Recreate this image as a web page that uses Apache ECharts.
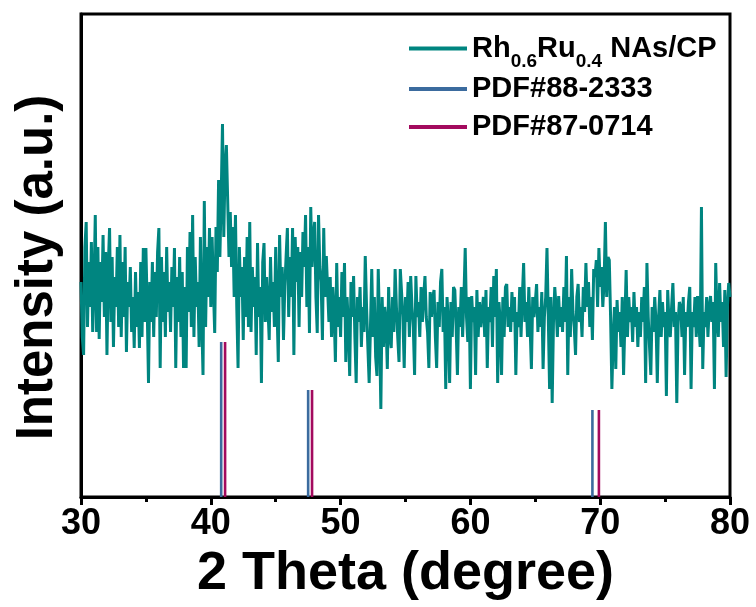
<!DOCTYPE html>
<html>
<head>
<meta charset="utf-8">
<script src="https://cdn.jsdelivr.net/npm/echarts@6/dist/echarts.min.js"></script>
<style>html,body{margin:0;padding:0;background:#fff;}#chart{width:756px;height:607px;}</style>
</head>
<body>
<div id="chart"></div>
<script>
// XRD pattern, 2θ from 30 to 80 in steps of 0.1
var thetaStart = 30;
var thetaStep = 0.1;
var intensity = [
215,160,142,250,275,170,235,190,255,165,
210,282,165,250,158,235,195,262,180,245,
142,230,269,175,240,150,220,190,250,170,
262,160,235,180,250,145,215,190,230,165,
200,149,225,170,205,149,235,160,249,175,
249,190,114,215,175,235,160,225,180,245,
269,129,240,175,225,160,250,185,215,165,
230,190,249,129,220,175,240,160,225,129,
210,129,250,185,265,170,282,160,240,190,
215,150,260,180,122,296,170,250,200,269,
190,260,210,164,270,225,317,240,300,373,
260,330,352,297,240,285,230,270,200,282,
190,129,250,200,230,157,240,180,260,170,
275,165,230,190,220,142,254,180,210,114,
235,254,175,220,190,157,240,185,215,170,
250,190,135,262,200,230,157,210,240,269,
180,240,200,269,142,260,215,250,170,245,
200,265,230,282,190,250,164,290,230,260,
275,200,164,282,230,215,157,269,200,241,
241,175,220,160,210,185,135,234,170,200,
160,225,180,234,135,200,170,121,215,180,
221,160,114,200,175,210,150,190,165,241,
190,150,114,170,228,160,200,140,121,228,
170,88,200,150,190,175,128,210,160,149,
200,165,228,190,160,135,228,228,180,129,
200,175,215,160,221,190,170,122,221,180,
195,160,210,175,200,221,180,165,129,205,
180,200,207,160,129,195,170,215,228,165,
190,108,200,175,114,195,160,210,207,170,
122,190,170,210,160,200,249,180,155,200,
108,201,175,190,122,207,160,195,170,185,
200,160,207,129,190,175,210,150,221,180,
228,114,195,175,122,200,160,210,213,170,
190,165,205,175,200,122,185,170,210,160,
200,234,175,195,160,210,170,128,200,180,
195,213,165,190,170,205,128,180,200,249,
180,108,200,94,175,210,190,160,201,170,
190,165,210,175,241,122,200,160,228,185,
170,142,200,213,175,190,160,210,185,234,
190,215,170,200,157,228,220,237,190,249,
210,230,190,215,275,200,240,237,180,108,
160,190,128,197,165,185,150,200,122,175,
227,160,200,175,190,155,205,170,190,150,
185,160,200,175,210,114,234,180,150,122,
190,165,200,175,114,180,207,160,195,170,
185,101,207,175,160,190,214,170,185,94,
175,195,190,160,200,122,185,170,195,210,
108,185,170,200,160,201,175,150,290,128,
185,170,200,160,190,201,175,195,108,234,
180,160,214,175,195,150,207,120,190,214,
200
];
// Standard reference patterns
var pdf88Theta = [40.8, 47.5, 69.4];
var pdf88Height = [155, 107, 87];
var pdf87Theta = [41.1, 47.8, 69.9];
var pdf87Height = [155, 107, 87];
var xTicks = [30, 40, 50, 60, 70, 80];

var sampleName = 'Rh0.6Ru0.4 NAs/CP';
var pdf88Name = 'PDF#88-2333';
var pdf87Name = 'PDF#87-0714';

var teal = '#008580', blue = '#3b6b9e', magenta = '#a30a5e';
var FONT = '"Liberation Sans", Arial, sans-serif';

var sampleData = intensity.map(function (v, i) {
  return [+(thetaStart + i * thetaStep).toFixed(2), v];
});
function sticks(th, h) { return th.map(function (t, i) { return [t, h[i]]; }); }

function stickRender(color) {
  return function (params, api) {
    var x = api.value(0), y = api.value(1);
    var p0 = api.coord([x, 0]);
    var p1 = api.coord([x, y]);
    return {
      type: 'rect',
      shape: { x: p0[0] - 1.3, y: p1[1], width: 2.6, height: p0[1] - p1[1] },
      style: { fill: color }
    };
  };
}

var chart = echarts.init(document.getElementById('chart'), null, { renderer: 'canvas' });
var legendText = { fontSize: 29, fontWeight: 'bold', color: '#000', fontFamily: FONT, lineHeight: 32 };
chart.setOption({
  animation: false,
  backgroundColor: '#fff',
  grid: { left: 81, right: 26, top: 14, bottom: 110, show: true, borderColor: '#000', borderWidth: 3, backgroundColor: 'transparent' },
  legend: [
    {
      data: [{ name: sampleName, icon: 'rect' }],
      left: 409, top: 26, padding: 0, itemWidth: 58, itemHeight: 4, selectedMode: false,
      formatter: function () { return '{a|Rh}{s|0.6}{a|Ru}{s|0.4}{a| NAs/CP}'; },
      textStyle: {
        color: '#000', fontFamily: FONT,
        rich: {
          a: { fontSize: 29, fontWeight: 'bold', fontFamily: FONT, color: '#000', lineHeight: 32 },
          s: { fontSize: 19, fontWeight: 'bold', fontFamily: FONT, color: '#000', lineHeight: 19, padding: [26, 0, 0, 0] }
        }
      }
    },
    {
      data: [{ name: pdf88Name, icon: 'rect' }],
      left: 409, top: 73, padding: 0, itemWidth: 58, itemHeight: 4, selectedMode: false,
      textStyle: legendText
    },
    {
      data: [{ name: pdf87Name, icon: 'rect' }],
      left: 409, top: 111, padding: 0, itemWidth: 58, itemHeight: 4, selectedMode: false,
      textStyle: legendText
    }
  ],
  xAxis: {
    type: 'value', min: 30, max: 80, interval: 10,
    name: '2 Theta (degree)', nameLocation: 'middle', nameGap: 42,
    nameTextStyle: { fontSize: 54, fontWeight: 'bold', color: '#000', fontFamily: FONT },
    axisLine: { show: true, lineStyle: { color: '#000', width: 3 } },
    axisTick: { show: true, inside: false, length: 8, lineStyle: { color: '#000', width: 3 } },
    minorTick: { show: true, splitNumber: 2, length: 5, lineStyle: { color: '#000', width: 3 } },
    axisLabel: {
      margin: 9, fontSize: 36, fontWeight: 'bold', color: '#000', fontFamily: FONT,
      formatter: function (v) { return xTicks.indexOf(v) >= 0 ? String(v) : ''; }
    },
    splitLine: { show: false }
  },
  yAxis: {
    type: 'value', min: 0, max: 483,
    name: 'Intensity (a.u.)', nameLocation: 'middle', nameGap: 18,
    nameTextStyle: { fontSize: 51, fontWeight: 'bold', color: '#000', fontFamily: FONT, padding: [0, 24, 0, 0] },
    axisLine: { show: true, lineStyle: { color: '#000', width: 3 } },
    axisTick: { show: false }, axisLabel: { show: false }, splitLine: { show: false }
  },
  series: [
    {
      name: sampleName, type: 'line', data: sampleData, showSymbol: false, symbol: 'none',
      lineStyle: { color: teal, width: 3 }, itemStyle: { color: teal }, z: 3
    },
    {
      name: pdf88Name, type: 'custom', data: sticks(pdf88Theta, pdf88Height),
      renderItem: stickRender(blue), itemStyle: { color: blue }, z: 4
    },
    {
      name: pdf87Name, type: 'custom', data: sticks(pdf87Theta, pdf87Height),
      renderItem: stickRender(magenta), itemStyle: { color: magenta }, z: 4
    }
  ]
});
</script>
</body>
</html>
